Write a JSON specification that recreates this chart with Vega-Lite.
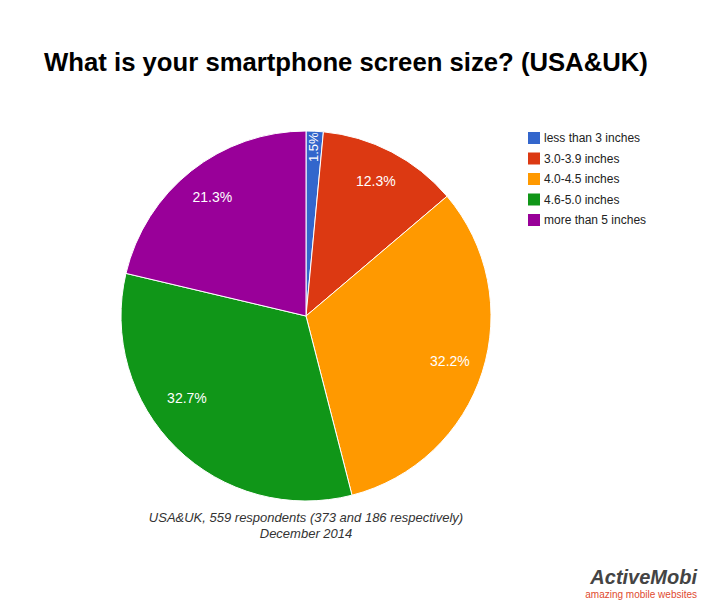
{
  "$schema": "https://vega.github.io/schema/vega-lite/v6.json",
  "width": 612,
  "height": 392,
  "autosize": {"type": "none"},
  "padding": {"left": 0, "top": 120, "right": 92, "bottom": 88},
  "background": "white",
  "title": {
    "text": "What is your smartphone screen size? (USA&UK)",
    "font": "Liberation Sans",
    "fontSize": 25.7,
    "fontWeight": "bold",
    "color": "#000000",
    "anchor": "middle",
    "frame": "group",
    "dx": 40,
    "offset": 43
  },
  "data": {
    "values": [
      {"size": "less than 3 inches", "value": 1.5, "label": "1.5%", "rank": 1},
      {"size": "3.0-3.9 inches", "value": 12.3, "label": "12.3%", "rank": 2},
      {"size": "4.0-4.5 inches", "value": 32.2, "label": "32.2%", "rank": 3},
      {"size": "4.6-5.0 inches", "value": 32.7, "label": "32.7%", "rank": 4},
      {"size": "more than 5 inches", "value": 21.3, "label": "21.3%", "rank": 5}
    ]
  },
  "layer": [
    {
      "mark": {"type": "arc", "outerRadius": 185, "stroke": "white", "strokeWidth": 1},
      "encoding": {
        "theta": {"field": "value", "type": "quantitative", "stack": true},
        "order": {"field": "rank", "type": "quantitative", "sort": "ascending"},
        "color": {
          "field": "size",
          "type": "nominal",
          "scale": {
            "domain": ["less than 3 inches", "3.0-3.9 inches", "4.0-4.5 inches", "4.6-5.0 inches", "more than 5 inches"],
            "range": ["#3366CC", "#DC3912", "#FF9900", "#109618", "#990099"]
          },
          "legend": {
            "title": null,
            "orient": "none",
            "legendX": 528,
            "legendY": 12,
            "padding": 0,
            "symbolType": "square",
            "symbolSize": 144,
            "symbolStrokeWidth": 0,
            "rowPadding": 8.5,
            "labelOffset": 4,
            "labelFont": "Liberation Sans",
            "labelFontSize": 12,
            "labelColor": "#222222",
            "labelLimit": 300
          }
        }
      }
    },
    {
      "mark": {"type": "text", "radius": 151, "fill": "white", "font": "Liberation Sans", "fontSize": 14},
      "encoding": {
        "theta": {"field": "value", "type": "quantitative", "stack": true},
        "order": {"field": "rank", "type": "quantitative", "sort": "ascending"},
        "detail": {"field": "size", "type": "nominal"},
        "text": {"condition": {"test": "datum.value < 2 || datum.rank == 4", "value": ""}, "field": "label", "type": "nominal"}
      }
    },
    {
      "mark": {"type": "text", "radius": 150, "dx": -14, "dy": -24, "fill": "white", "font": "Liberation Sans", "fontSize": 14},
      "encoding": {
        "theta": {"field": "value", "type": "quantitative", "stack": true},
        "order": {"field": "rank", "type": "quantitative", "sort": "ascending"},
        "detail": {"field": "size", "type": "nominal"},
        "text": {"condition": {"test": "datum.rank != 4", "value": ""}, "field": "label", "type": "nominal"}
      }
    },
    {
      "mark": {"type": "text", "radius": 169, "angle": 270, "fill": "white", "font": "Liberation Sans", "fontSize": 13},
      "encoding": {
        "theta": {"field": "value", "type": "quantitative", "stack": true},
        "order": {"field": "rank", "type": "quantitative", "sort": "ascending"},
        "detail": {"field": "size", "type": "nominal"},
        "text": {"condition": {"test": "datum.value >= 2", "value": ""}, "field": "label", "type": "nominal"}
      }
    },
    {
      "data": {"values": [{"note": "footer"}]},
      "mark": {
        "type": "text",
        "y": "height",
        "baseline": "top",
        "dy": 0,
        "align": "center",
        "lineHeight": 15.5,
        "font": "Liberation Sans",
        "fontSize": 13,
        "fontStyle": "italic",
        "fill": "#333333",
        "text": ["USA&UK, 559 respondents (373 and 186 respectively)", "December 2014"]
      },
      "encoding": {}
    },
    {
      "data": {"values": [{"note": "logo"}]},
      "mark": {
        "type": "text",
        "x": "width",
        "y": "height",
        "align": "right",
        "baseline": "alphabetic",
        "dx": 85,
        "dy": 72,
        "font": "Liberation Sans",
        "fontSize": 20,
        "fontStyle": "italic",
        "fontWeight": "bold",
        "fill": "#444444",
        "text": "ActiveMobi"
      },
      "encoding": {}
    },
    {
      "data": {"values": [{"note": "logo"}]},
      "mark": {
        "type": "text",
        "x": "width",
        "y": "height",
        "align": "right",
        "baseline": "alphabetic",
        "dx": 85,
        "dy": 86,
        "font": "Liberation Sans",
        "fontSize": 10,
        "fill": "#E04A2F",
        "text": "amazing mobile websites"
      },
      "encoding": {}
    }
  ]
}
